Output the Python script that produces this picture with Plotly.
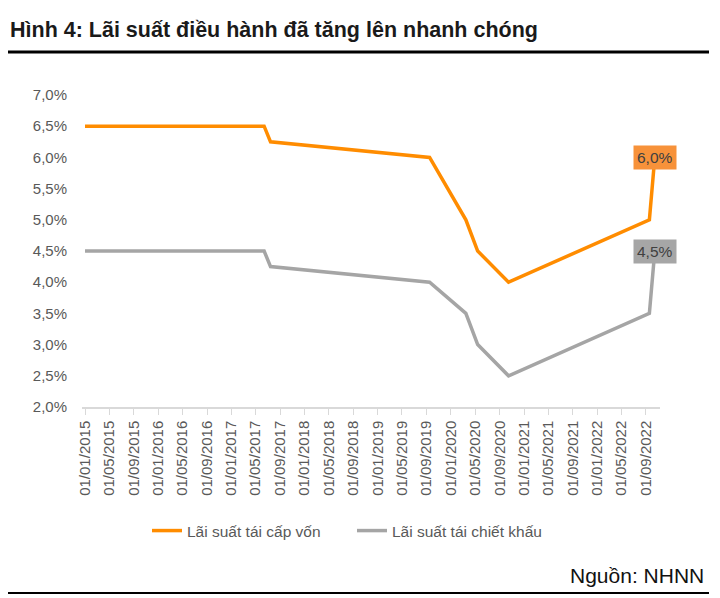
import plotly.graph_objects as go

# ---- data ----
dates = ["2015-01-01", "2017-06-13", "2017-07-15", "2019-09-17", "2020-03-16",
         "2020-05-14", "2020-10-15", "2022-09-18", "2022-10-15"]
refinancing = [6.5, 6.5, 6.25, 6.0, 5.0, 4.5, 4.0, 5.0, 6.0]
rediscount = [4.5, 4.5, 4.25, 4.0, 3.5, 3.0, 2.5, 3.5, 4.5]
series_names = ["Lãi suất tái cấp vốn", "Lãi suất tái chiết khấu"]
tick_dates = ["2015-01-01", "2015-05-01", "2015-09-01", "2016-01-01", "2016-05-01", "2016-09-01",
              "2017-01-01", "2017-05-01", "2017-09-01", "2018-01-01", "2018-05-01", "2018-09-01",
              "2019-01-01", "2019-05-01", "2019-09-01", "2020-01-01", "2020-05-01", "2020-09-01",
              "2021-01-01", "2021-05-01", "2021-09-01", "2022-01-01", "2022-05-01", "2022-09-01"]
y_ticks = [2.0, 2.5, 3.0, 3.5, 4.0, 4.5, 5.0, 5.5, 6.0, 6.5, 7.0]

title_text = "Hình 4: Lãi suất điều hành đã tăng lên nhanh chóng"
source_text = "Nguồn: NHNN"

def fmt_pct(v):
    return f"{v:.1f}%".replace(".", ",")

# ---- styling ----
W, H = 720, 598
L, R, T, B = 82, 60, 95, 191
ORANGE = "#FF8C00"
GRAY = "#A5A5A5"
LABEL_ORANGE = "#F7923A"
LABEL_GRAY = "#A6A6A6"
TXT = "#595959"
FONT = "Liberation Sans, Arial, sans-serif"

pw, ph = W - L - R, H - T - B
def px(x):
    return (x - L) / pw
def py(y):
    return (H - B - y) / ph

fig = go.Figure()
fig.add_trace(go.Scatter(x=dates, y=refinancing, mode="lines", name=series_names[0],
                         line=dict(color=ORANGE, width=3.5)))
fig.add_trace(go.Scatter(x=dates, y=rediscount, mode="lines", name=series_names[1],
                         line=dict(color=GRAY, width=3.5)))

# end labels
for vals, col in [(refinancing, LABEL_ORANGE), (rediscount, LABEL_GRAY)]:
    fig.add_annotation(x=dates[-1], y=vals[-1], xref="x", yref="y",
                       text=fmt_pct(vals[-1]), showarrow=False,
                       bgcolor=col, font=dict(family=FONT, size=15.5, color="#404040"),
                       xanchor="center", yanchor="middle", borderpad=3)

# source
fig.add_annotation(x=px(706), y=py(575), xref="paper", yref="paper", text=source_text,
                   showarrow=False, xanchor="right", yanchor="middle",
                   font=dict(family=FONT, size=21, color="#111111"))

# horizontal rules
fig.add_shape(type="line", xref="paper", yref="paper", x0=px(8), x1=px(709), y0=py(52), y1=py(52),
              line=dict(color="black", width=3))
fig.add_shape(type="line", xref="paper", yref="paper", x0=px(8), x1=px(709), y0=py(593), y1=py(593),
              line=dict(color="black", width=2))

fig.update_layout(
    width=W, height=H,
    margin=dict(l=L, r=R, t=T, b=B),
    paper_bgcolor="white", plot_bgcolor="white",
    separators=",.",
    title=dict(text=f"<b>{title_text}</b>", x=10 / W, xanchor="left", y=1 - 29 / H, yanchor="middle",
               xref="container", yref="container",
               font=dict(family=FONT, size=21.5, color="#1a1a1a")),
    showlegend=True,
    legend=dict(orientation="h", x=px(147), xanchor="left", y=py(531), yanchor="middle",
                entrywidth=160, entrywidthmode="pixels",
                font=dict(family=FONT, size=15.5, color=TXT), bgcolor="rgba(0,0,0,0)"),
    xaxis=dict(type="date", range=["2014-12-17", "2022-11-10"], tickmode="array",
               tickvals=tick_dates, tickformat="%d/%m/%Y", tickangle=-90,
               showgrid=False, zeroline=False, showline=True, linecolor="#D9D9D9", linewidth=1.5,
               ticks="outside", ticklen=6, tickcolor="#D9D9D9", tickwidth=1,
               tickfont=dict(family=FONT, size=15, color=TXT)),
    yaxis=dict(range=[2.0, 7.0], tickmode="array", tickvals=y_ticks,
               ticktext=[fmt_pct(v) for v in y_ticks],
               showgrid=False, zeroline=False, showline=False, ticks="",
               tickfont=dict(family=FONT, size=15, color=TXT), ticklabelstandoff=14),
)

fig.write_html("out.html")
